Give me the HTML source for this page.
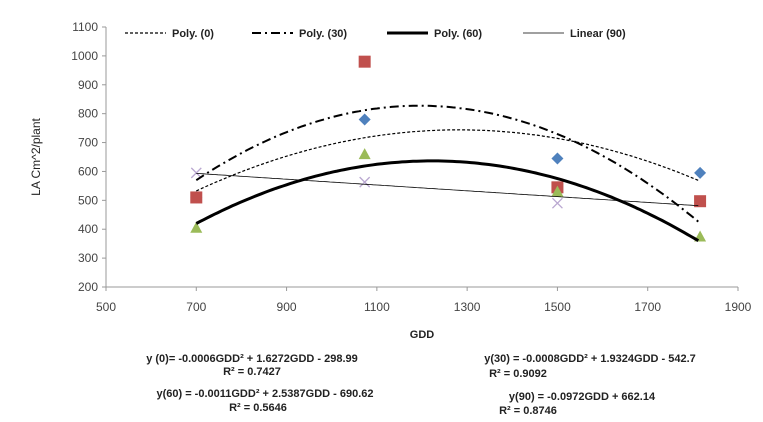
<!DOCTYPE html>
<html><head><meta charset="utf-8"><style>
body{margin:0;background:#fff}
svg{display:block;font-family:"Liberation Sans",sans-serif}
</style></head><body>
<svg id="chart" width="763" height="422" viewBox="0 0 763 422"></svg>
<script>
const xs = [700, 1073, 1500, 1816];
const s0 = [510, 780, 645, 595];
const s30 = [510, 980, 545, 497];
const s60 = [405, 660, 530, 375];
const s90 = [595, 563, 490, 495];
const xTicks = [500, 700, 900, 1100, 1300, 1500, 1700, 1900];
const yTicks = [200, 300, 400, 500, 600, 700, 800, 900, 1000, 1100];

const NS = "http://www.w3.org/2000/svg";
const svg = document.getElementById('chart');
const X = v => 106 + (v - 500) / 1400 * 632;
const Y = v => 287 - (v - 200) / 900 * 260;
function mk(tag, attrs, parent) {
  const e = document.createElementNS(NS, tag);
  for (const k in attrs) e.setAttribute(k, attrs[k]);
  (parent || svg).appendChild(e);
  return e;
}
function txt(x, y, s, size, anchor, weight, fill) {
  const t = mk('text', {x: x, y: y, 'font-size': size, 'text-anchor': anchor || 'middle', 'font-weight': weight || 'normal', fill: fill || '#222'});
  t.textContent = s;
  return t;
}
let a = mk('line', {x1: 106, y1: 27, x2: 106, y2: 287, stroke: '#999'});


a = mk('line', {x1: 106, y1: 287, x2: 738, y2: 287, stroke: '#999'});


yTicks.forEach(v => {
  mk('line', {x1: 102, y1: Y(v), x2: 106, y2: Y(v), stroke: '#999'});
  const t = txt(98, Y(v) + 4, v, 12, 'end', 'normal', '#444');
  
  
});
xTicks.forEach(v => {
  mk('line', {x1: X(v), y1: 287, x2: X(v), y2: 291, stroke: '#999'});
  const t = txt(X(v), 311, v, 12, 'middle', 'normal', '#444');
  
  
});
let yt = txt(0, 0, 'LA Cm^2/plant', 12);
yt.setAttribute('transform', 'translate(40,157) rotate(-90)');


let xt = txt(422, 338, 'GDD', 11, 'middle', 'bold');



function fit(ys, deg) {
  const n = deg + 1, A = [], b = [];
  for (let i = 0; i < n; i++) { A.push(new Array(n).fill(0)); b.push(0); }
  xs.forEach((x, k) => {
    const u = (x - 1200) / 1000;
    for (let i = 0; i < n; i++) {
      b[i] += ys[k] * Math.pow(u, i);
      for (let j = 0; j < n; j++) A[i][j] += Math.pow(u, i + j);
    }
  });
  for (let i = 0; i < n; i++) for (let r = i + 1; r < n; r++) {
    const f = A[r][i] / A[i][i];
    for (let c = i; c < n; c++) A[r][c] -= f * A[i][c];
    b[r] -= f * b[i];
  }
  const c = new Array(n).fill(0);
  for (let i = n - 1; i >= 0; i--) {
    let s = b[i];
    for (let j = i + 1; j < n; j++) s -= A[i][j] * c[j];
    c[i] = s / A[i][i];
  }
  return x => { const u = (x - 1200) / 1000; let s = 0; for (let i = 0; i < n; i++) s += c[i] * Math.pow(u, i); return s; };
}
function curve(ys, deg, style, name) {
  const f = fit(ys, deg);
  let d = '';
  for (let x = xs[0]; x <= xs[xs.length - 1] + 0.1; x += 8) d += (d ? 'L' : 'M') + X(x).toFixed(1) + ',' + Y(f(x)).toFixed(1);
  const p = mk('path', Object.assign({d: d, fill: 'none', stroke: '#000'}, style));
  
  
}
s0.forEach((v, i) => {
  const cx = X(xs[i]), cy = Y(v);
  const m = mk('polygon', {points: `${cx},${cy-6} ${cx+6},${cy} ${cx},${cy+6} ${cx-6},${cy}`, fill: '#4f81bd'});
  
  
});
s90.forEach((v, i) => {
  const cx = X(xs[i]), cy = Y(v);
  const m = mk('path', {d: `M${cx-5},${cy-5}L${cx+5},${cy+5}M${cx+5},${cy-5}L${cx-5},${cy+5}`, stroke: '#b9a7d0', 'stroke-width': 1.3});
  
  
});
s30.forEach((v, i) => {
  const cx = X(xs[i]), cy = Y(v);
  const m = mk('rect', {x: cx - 6, y: cy - 6, width: 12, height: 12, fill: '#c0504d'});
  
  
});
s60.forEach((v, i) => {
  const cx = X(xs[i]), cy = Y(v);
  const m = mk('polygon', {points: `${cx},${cy-6} ${cx+6},${cy+5} ${cx-6},${cy+5}`, fill: '#9bbb59'});
  
  
});
curve(s0, 2, {'stroke-width': 1.2, 'stroke-dasharray': '3,2'}, 'trend-poly-0');
curve(s30, 2, {'stroke-width': 2, 'stroke-dasharray': '9,4,2,4'}, 'trend-poly-30');
curve(s60, 2, {'stroke-width': 3}, 'trend-poly-60');
curve(s90, 1, {'stroke-width': 0.8}, 'trend-linear-90');

const leg = [
  [125, 'Poly. (0)', {'stroke-width': 1.2, 'stroke-dasharray': '3,2'}],
  [252, 'Poly. (30)', {'stroke-width': 2, 'stroke-dasharray': '9,4,2,4'}],
  [387, 'Poly. (60)', {'stroke-width': 3}],
  [523, 'Linear (90)', {'stroke-width': 0.8}]
];
leg.forEach(l => {
  const g = mk('g', {});
  
  
  mk('line', Object.assign({x1: l[0], y1: 33, x2: l[0] + 41, y2: 33, stroke: '#000'}, l[2]), g);
  const t = mk('text', {x: l[0] + 47, y: 37, 'font-size': 11, 'font-weight': 'bold', fill: '#222'}, g);
  t.textContent = l[1];
});

const eqs = [
  [252, 362, 'y (0)= -0.0006GDD² + 1.6272GDD - 298.99'],
  [252, 375, 'R² = 0.7427'],
  [590, 362, 'y(30) = -0.0008GDD² + 1.9324GDD - 542.7'],
  [518, 377, 'R² = 0.9092'],
  [265, 397, 'y(60) = -0.0011GDD² + 2.5387GDD - 690.62'],
  [258, 411, 'R² = 0.5646'],
  [582, 400, 'y(90) = -0.0972GDD + 662.14'],
  [528, 414, 'R² = 0.8746']
];
eqs.forEach(e => {
  const t = txt(e[0], e[1], e[2], 11, 'middle', 'bold');
  
  
});
</script>
</body></html>
